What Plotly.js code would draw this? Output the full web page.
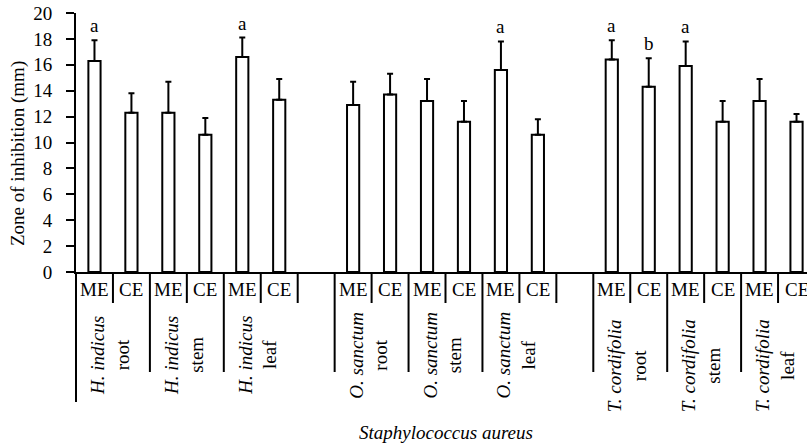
<!DOCTYPE html>
<html>
<head>
<meta charset="utf-8">
<script src="https://cdn.plot.ly/plotly-3.0.1.min.js"></script>
<style>
  html, body { margin: 0; padding: 0; background: #fff; }
  #chart { width: 807px; height: 443px; }
</style>
</head>
<body>
<div id="chart"></div>
<script>
// ---- data ----
const plants = ['H. indicus', 'O. sanctum', 'T. cordifolia'];
const parts = ['root', 'stem', 'leaf'];
const extracts = ['ME', 'CE'];
// order: plant -> part -> extract
const meanValues = [16.3, 12.3, 12.3, 10.6, 16.6, 13.3,
                    12.9, 13.7, 13.2, 11.6, 15.6, 10.6,
                    16.4, 14.3, 15.9, 11.6, 13.2, 11.6];
const errValues  = [1.6, 1.5, 2.4, 1.3, 1.5, 1.6,
                    1.8, 1.6, 1.7, 1.6, 2.2, 1.2,
                    1.5, 2.2, 1.9, 1.6, 1.7, 0.6];
const letters = ['a', '', '', '', 'a', '',
                 '', '', '', '', 'a', '',
                 'a', 'b', 'a', '', '', ''];
const yTickVals = [0, 2, 4, 6, 8, 10, 12, 14, 16, 18, 20];
const xTitle = 'Staphylococcus aureus';
const yTitle = 'Zone of inhibition (mm)';

// ---- layout helpers ----
const FONT = '"Liberation Serif", "Times New Roman", Times, serif';
const FS = 19;
const PX0 = 272, PH = 259; // plot bottom pixel and plot height
const py = p => (PX0 - p) / PH; // pixel -> paper y

const xs = [], ys = [], es = [], em = [];
const annotations = [];
const shapes = [];
let k = 0;
plants.forEach((pl, pi) => {
  parts.forEach((pt, qi) => {
    const gi = pi * 3 + qi;
    const base = gi * 2 + pi; // slot index of ME
    extracts.forEach((ex, ei) => {
      const x = base + ei;
      xs.push(x); ys.push(meanValues[k]); es.push(errValues[k]); em.push(0);
      annotations.push({x: x, y: py(289), xref: 'x', yref: 'paper', text: ex, showarrow: false,
        font: {family: FONT, size: FS, color: '#000'}, xanchor: 'center', yanchor: 'middle'});
      if (letters[k]) {
        annotations.push({x: x, y: meanValues[k] + errValues[k], xref: 'x', yref: 'y', text: letters[k],
          showarrow: false, font: {family: FONT, size: FS, color: '#000'}, xanchor: 'center', yanchor: 'bottom', yshift: 2});
      }
      k++;
    });
    // group label (rotated)
    annotations.push({x: base + 0.42, y: py(pi === 2 ? 366 : 355), xref: 'x', yref: 'paper',
      text: '<i>' + pl + '</i><br>' + pt, textangle: -90, showarrow: false,
      font: {family: FONT, size: FS, color: '#000'}, xanchor: 'center', yanchor: 'middle'});
    // separators
    const lw = {color: '#000', width: 2};
    if (gi > 0) {
      shapes.push({type: 'line', xref: 'x', yref: 'paper', x0: base - 0.5, x1: base - 0.5,
        y0: 0, y1: py(372), line: lw});
    }
    shapes.push({type: 'line', xref: 'x', yref: 'paper', x0: base + 0.5, x1: base + 0.5,
      y0: 0, y1: py(303), line: lw});
    if (qi === 2) {
      shapes.push({type: 'line', xref: 'x', yref: 'paper', x0: base + 1.5, x1: base + 1.5,
        y0: 0, y1: py(303), line: lw});
    }
  });
});
// left axis extension
shapes.push({type: 'line', xref: 'paper', yref: 'paper', x0: 0, x1: 0, y0: 0, y1: py(402),
  line: {color: '#000', width: 2}});

annotations.push({x: 0.506, y: py(432), xref: 'paper', yref: 'paper', text: '<i>' + xTitle + '</i>',
  showarrow: false, font: {family: FONT, size: FS, color: '#000'}, xanchor: 'center', yanchor: 'middle'});
annotations.push({x: (18 - 76) / 731, y: py(154), xref: 'paper', yref: 'paper', xanchor: 'center', yanchor: 'middle',
  text: yTitle, textangle: -90, showarrow: false, font: {family: FONT, size: FS, color: '#000'}});

const trace = {
  type: 'bar', x: xs, y: ys, width: 0.33,
  marker: {color: '#fff', line: {color: '#000', width: 2}},
  error_y: {type: 'data', symmetric: false, array: es, arrayminus: em, visible: true,
    color: '#000', thickness: 2, width: 3},
  hoverinfo: 'none'
};

const layout = {
  width: 807, height: 443,
  margin: {l: 76, r: 0, t: 13, b: 171, pad: 0},
  paper_bgcolor: '#fff', plot_bgcolor: '#fff',
  showlegend: false,
  font: {family: FONT, size: FS, color: '#000'},
  xaxis: {range: [-0.5, -0.5 + 731 / 36.95], showticklabels: false, ticks: '', showgrid: false,
    zeroline: false, showline: true, linecolor: '#000', linewidth: 2},
  yaxis: {range: [0, 20], tickvals: yTickVals, ticks: 'outside', ticklen: 8, tickwidth: 2, tickcolor: '#000',
    showgrid: false, zeroline: false, showline: true, linecolor: '#000', linewidth: 2,
    ticklabelstandoff: 10,
    tickfont: {family: FONT, size: FS, color: '#000'}},
  annotations: annotations,
  shapes: shapes
};

Plotly.newPlot('chart', [trace], layout, {displayModeBar: false, staticPlot: true});
</script>
</body>
</html>
